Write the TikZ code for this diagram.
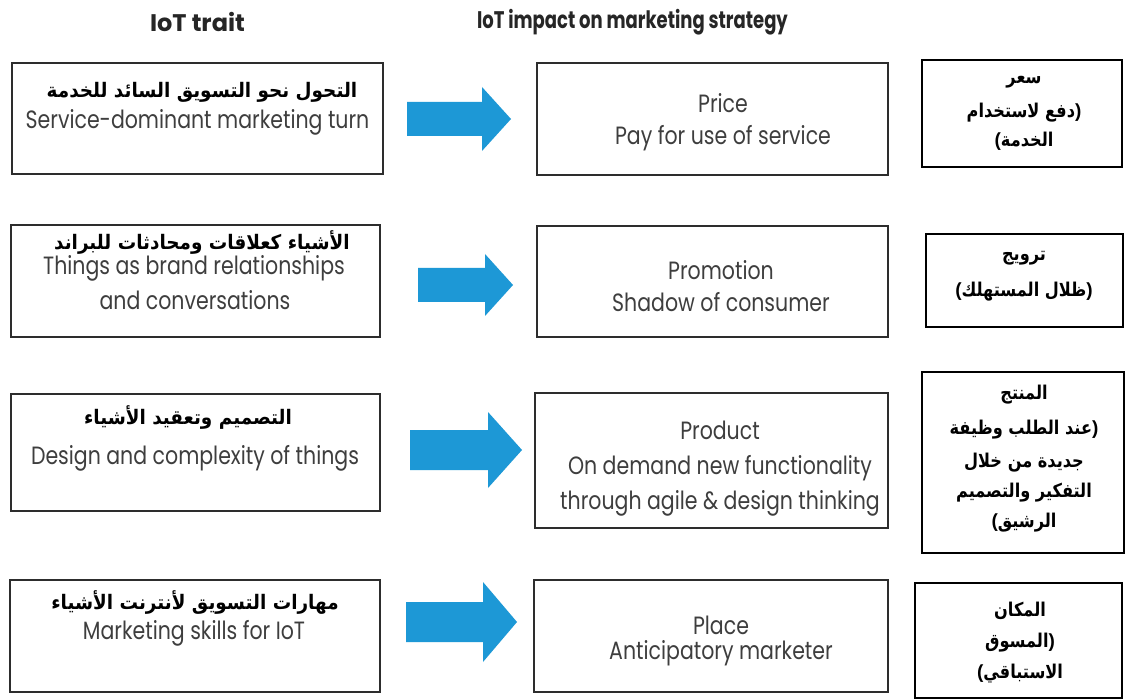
\documentclass[tikz,border=0pt]{standalone}
\usepackage{fontspec}
\TeXXeTstate=1
\newfontfamily\engfont{Poppins}[FakeStretch=0.82]
\newfontfamily\ttlfont{Poppins}[FakeStretch=0.75]
\newfontfamily\ttlwfont{Poppins}
\newfontfamily\arfont[Script=Arabic]{DejaVu Sans}[FakeStretch=0.92]
\newfontfamily\arnfont[Script=Arabic]{DejaVu Sans}[FakeStretch=0.85]
\newfontfamily\parfont{Liberation Sans}
\definecolor{arrowblue}{RGB}{29,152,214}
\definecolor{txtgray}{RGB}{62,62,62}
\definecolor{boxgray}{RGB}{45,45,45}
\newcommand\bluearrow[6]{%
  \fill[arrowblue] (#1,#4-#5) -- (#2,#4-#5) -- (#2,#4-#6) -- (#3,#4) -- (#2,#4+#6) -- (#2,#4+#5) -- (#1,#4+#5) -- cycle;}
\newcommand\lp{\mbox{\parfont\bfseries(}}
\newcommand\rp{\mbox{\parfont\bfseries)}}
\begin{document}
\begin{tikzpicture}[x=1pt,y=-1pt,
  lbox/.style={draw=boxgray, line width=2.8pt, inner sep=0pt, outer sep=0pt},
  rbox/.style={draw=black, line width=1.6pt, inner sep=0pt, outer sep=0pt},
  eng/.style={font=\engfont\fontsize{25}{30}\selectfont, text=txtgray, inner sep=0pt},
  ttl/.style={font=\ttlfont\bfseries\fontsize{24}{28}\selectfont, text=black!85, inner sep=0pt},
  ttlw/.style={font=\ttlwfont\bfseries\fontsize{24}{28}\selectfont, text=black!85, inner sep=0pt},
  arl/.style={font=\arfont\bfseries\fontsize{20}{24}\selectfont, text=black, inner sep=0pt},
  arr/.style={font=\arnfont\bfseries\fontsize{19}{23}\selectfont, text=black, inner sep=0pt}]
\useasboundingbox[fill=white] (0,0) rectangle (1126,700);

% titles
\node[ttlw] (t1) at (197.5,22) {IoT trait};
\node[ttl] (t2) at (632.5,22) {IoT impact on marketing strategy};

% left boxes
\node[lbox, minimum width=371pt, minimum height=111pt] (L1) at (197.5,118.5) {};
\node[lbox, minimum width=369pt, minimum height=112pt] (L2) at (195.5,281) {};
\node[lbox, minimum width=369pt, minimum height=117pt] (L3) at (195.5,452.5) {};
\node[lbox, minimum width=370pt, minimum height=112pt] (L4) at (195,636) {};

% middle boxes
\node[lbox, minimum width=351pt, minimum height=112pt] (M1) at (712.5,119) {};
\node[lbox, minimum width=351pt, minimum height=111pt] (M2) at (712.5,281.5) {};
\node[lbox, minimum width=353pt, minimum height=135pt] (M3) at (711.5,460.5) {};
\node[lbox, minimum width=354pt, minimum height=112pt] (M4) at (711,636) {};

% right boxes
\node[rbox, minimum width=200pt, minimum height=107pt] (R1) at (1022,113.5) {};
\node[rbox, minimum width=197pt, minimum height=93pt] (R2) at (1024.5,280.5) {};
\node[rbox, minimum width=202pt, minimum height=181pt] (R3) at (1023,462.5) {};
\node[rbox, minimum width=207pt, minimum height=115pt] (R4) at (1018.5,640.5) {};

% arrows
\bluearrow{407}{482}{511}{119}{17}{32}
\bluearrow{418}{485}{513}{285}{17}{31}
\bluearrow{410}{488}{522}{450}{20}{38}
\bluearrow{406}{483}{517}{622}{20}{40}

% left texts
\node[arl] (L1a) at (202,92) {\beginR التحول نحو التسويق السائد للخدمة\endR};
\node[eng] (L1b) at (197.5,122) {Service-dominant marketing turn};
\node[arl] (L2a) at (202,242) {\beginR الأشياء كعلاقات ومحادثات للبراند\endR};
\node[eng] (L2b) at (194,268) {Things as brand relationships};
\node[eng] (L2c) at (195,300) {and conversations};
\node[arl] (L3a) at (188,417) {\beginR التصميم وتعقيد الأشياء\endR};
\node[eng] (L3b) at (195,458) {Design and complexity of things};
\node[arl] (L4a) at (195,603) {\beginR مهارات التسويق لأنترنت الأشياء\endR};
\node[eng] (L4b) at (194,633) {Marketing skills for IoT};

% middle texts
\node[eng] (M1a) at (723,103) {Price};
\node[eng] (M1b) at (723,138) {Pay for use of service};
\node[eng] (M2a) at (721,270) {Promotion};
\node[eng] (M2b) at (721,302) {Shadow of consumer};
\node[eng] (M3a) at (720,430) {Product};
\node[eng] (M3b) at (720,468) {On demand new functionality};
\node[eng] (M3c) at (720,503) {through agile \& design thinking};
\node[eng] (M4a) at (721,625) {Place};
\node[eng] (M4b) at (721,653) {Anticipatory marketer};

% right texts
\node[arr] (R1a) at (1024,82) {\beginR سعر\endR};
\node[arr] (R1b) at (1024,113) {\beginR دفع لاستخدام\endR\rp};
\node[arr] (R1c) at (1024,141) {\lp\beginR الخدمة\endR};
\node[arr] (R2a) at (1024,258) {\beginR ترويج\endR};
\node[arr] (R2b) at (1024,292) {\lp\beginR ظلال المستهلك\endR\rp};
\node[arr] (R3a) at (1024,395) {\beginR المنتج\endR};
\node[arr] (R3b) at (1024,430) {\beginR عند الطلب وظيفة\endR\rp};
\node[arr] (R3c) at (1024,463) {\beginR جديدة من خلال\endR};
\node[arr] (R3d) at (1024,493) {\beginR التفكير والتصميم\endR};
\node[arr] (R3e) at (1024,523) {\lp\beginR الرشيق\endR};
\node[arr] (R4a) at (1020,611) {\beginR المكان\endR};
\node[arr] (R4b) at (1020,643) {\beginR المسوق\endR\rp};
\node[arr] (R4c) at (1020,674) {\lp\beginR الاستباقي\endR};
\end{tikzpicture}
\end{document}
